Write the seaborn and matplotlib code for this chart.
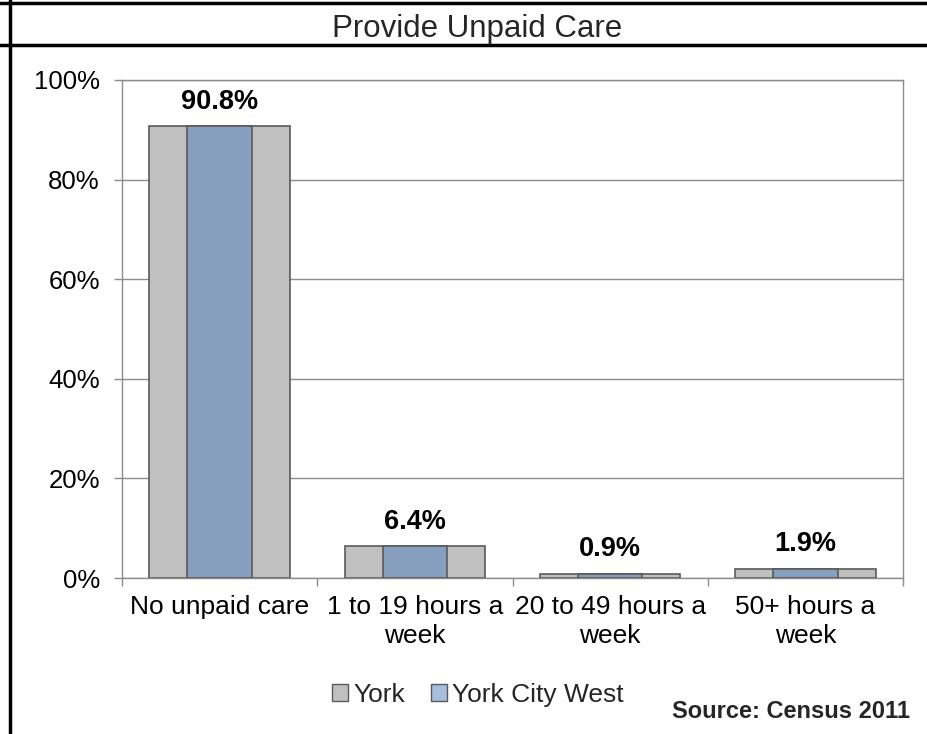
import matplotlib
matplotlib.use("Agg")
import matplotlib.pyplot as plt
import seaborn as sns
import pandas as pd
from matplotlib.lines import Line2D
from matplotlib.patches import Patch

# Datos
categories = ["No unpaid care", "1 to 19 hours a\nweek", "20 to 49 hours a\nweek", "50+ hours a\nweek"]
york = [90.8, 6.5, 0.9, 1.9]
york_city_west = [90.8, 6.4, 0.9, 1.9]
labels = ["90.8%", "6.4%", "0.9%", "1.9%"]
y_ticks = [0, 20, 40, 60, 80, 100]

GREY = "#C0C0C0"
BLUE = "#879FBE"
EDGE = "#5A5A5A"
AXIS_GREY = "#8C8C8C"

sns.set_theme(style="white")
plt.rcParams['font.family'] = ['Liberation Sans', 'DejaVu Sans']

df = pd.DataFrame({"category": categories, "York": york, "York City West": york_city_west})

fig = plt.figure(figsize=(9.27, 7.34), dpi=100)
ax = fig.add_axes([122 / 927, 1 - 578 / 734, (903 - 122) / 927, (578 - 80) / 734])

sns.barplot(data=df, x="category", y="York", color=GREY, width=0.72,
            edgecolor=EDGE, linewidth=1.2, saturation=1, ax=ax, zorder=2)
sns.barplot(data=df, x="category", y="York City West", color=BLUE, width=0.33,
            edgecolor=EDGE, linewidth=1.2, saturation=1, ax=ax, zorder=3)

# Etiquetas de valor sobre las barras
for i, (v, lab) in enumerate(zip(york_city_west, labels)):
    ax.annotate(lab, (i, v), xytext=(0, 8), textcoords="offset points",
                ha="center", va="bottom", fontsize=19.5, weight="bold", color="black")

ax.set_ylim(0, 100)
ax.set_xlim(-0.5, len(categories) - 0.5)
ax.set_yticks(y_ticks)
ax.set_yticklabels([f"{t}%" for t in y_ticks])
ax.yaxis.grid(True, color=AXIS_GREY, linewidth=1)
ax.set_axisbelow(True)
ax.set_xlabel("")
ax.set_ylabel("")

# Marcas del eje X entre categorías
ax.set_xticks([i - 0.5 for i in range(len(categories) + 1)], minor=True)
ax.tick_params(axis="x", which="major", length=0, pad=12, labelsize=19, colors="black")
ax.tick_params(axis="x", which="minor", length=6, width=1, color=AXIS_GREY, direction="out", bottom=True)
ax.tick_params(axis="y", length=6, width=1, color=AXIS_GREY, direction="out", left=True,
               pad=10, labelsize=18.5, labelcolor="black")
for t in ax.get_xticklabels():
    t.set_linespacing(1.3)

for s in ax.spines.values():
    s.set_color(AXIS_GREY)
    s.set_linewidth(1)

# Marco tipo tabla
fig.add_artist(Line2D([0, 1], [1 - 3 / 734] * 2, color="black", lw=2.5, transform=fig.transFigure))
fig.add_artist(Line2D([0, 1], [1 - 45 / 734] * 2, color="black", lw=2.5, transform=fig.transFigure))
fig.add_artist(Line2D([10 / 927] * 2, [0, 1], color="black", lw=2.5, transform=fig.transFigure))

fig.text(477 / 927, 1 - 29 / 734, "Provide Unpaid Care", ha="center", va="center", fontsize=22.5)

handles = [Patch(facecolor=GREY, edgecolor=EDGE, linewidth=1),
           Patch(facecolor="#A7BEDD", edgecolor=EDGE, linewidth=1)]
fig.legend(handles, ["York", "York City West"], loc="center", bbox_to_anchor=(478 / 927, 1 - 695 / 734),
           ncol=2, frameon=False, fontsize=19, handlelength=0.6, handleheight=0.6,
           handletextpad=0.2, columnspacing=1.0)

fig.text(910 / 927, 1 - 712 / 734, "Source: Census 2011", ha="right", va="center",
         fontsize=17, weight="bold")

fig.savefig("out.png", dpi=100)
